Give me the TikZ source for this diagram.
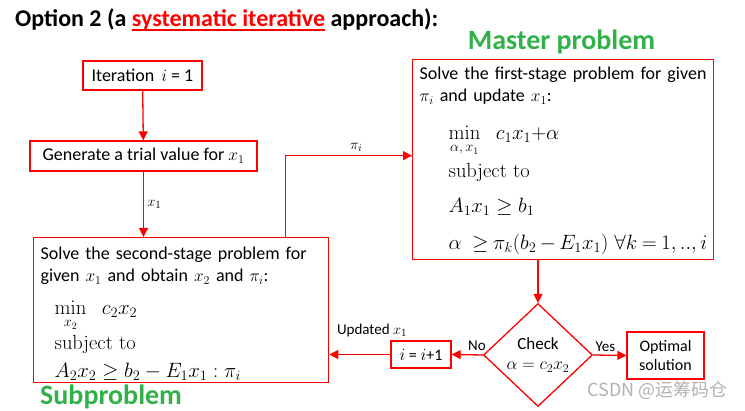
\documentclass[tikz,border=0pt]{standalone}
\usepackage[no-math]{fontspec}
\usepackage{amsmath,amssymb}
\setmainfont{Carlito}
\newfontfamily\cjkfont{Noto Sans CJK SC}
\usetikzlibrary{arrows.meta,shapes.geometric}
\definecolor{pptgreen}{RGB}{50,177,75}
\setlength{\parindent}{0pt}
\newcommand{\lmtext}[1]{{\fontfamily{lmr}\selectfont #1}}
\newcommand{\redline}[1]{\setbox0=\hbox{#1}\rlap{\rule[-3.6pt]{\wd0}{1.6pt}}\box0}
\newcommand{\mathline}[3][20.5]{{\fontsize{#1}{24}\selectfont\hspace*{#2}\mbox{#3}\par}}
\begin{document}
\begin{tikzpicture}[x=1pt,y=-1pt,
  box/.style={draw=red,line width=1.3pt,inner sep=0pt,font=\fontsize{18}{22}\selectfont},
  bigbox/.style={draw=red,line width=1.3pt,anchor=north west,inner xsep=7pt,inner ysep=0pt,font=\fontsize{18}{22}\selectfont},
  link/.style={red,line width=1.3pt,-{Triangle[length=9pt,width=9pt]}},
  lbl/.style={text=black,font=\fontsize{15}{18}\selectfont},
  heading/.style={font=\fontsize{28}{34}\selectfont\bfseries,text=pptgreen}]
  \useasboundingbox (0,0) rectangle (745,411);
  \node[anchor=base west,inner sep=0pt,font=\fontsize{24}{29}\selectfont\bfseries] (title) at (15,27)
    {Option 2 (a \textcolor{red}{\redline{systematic iterative}} approach):};
  \node[heading,anchor=base] (mtitle) at (561.5,50) {Master problem};
  \node[heading,anchor=base west,inner sep=0pt] (stitle) at (40,405) {Subproblem};
  \node[box,minimum width=119pt,minimum height=29pt] (iter) at (142.5,75.5) {Iteration \,$i$ = 1};
  \node[box,minimum width=227pt,minimum height=30pt] (trial) at (143.5,156) {Generate a trial value for $x_1$};
  \node[bigbox,text width=281pt,minimum height=145pt] (sub) at (33,237)
    {\lineskiplimit=-100pt
     \rule{0pt}{20pt}Solve the second-stage problem for given $x_1$ and obtain $x_2$ and $\pi_i$:\par
     \vspace{9pt}\mathline{14pt}{$\min\limits_{x_2}\ \ c_2x_2$}
     \vspace{11pt}\mathline{14pt}{\lmtext{subject to}}
     \vspace{4pt}\mathline{14pt}{$A_2x_2 \geq b_2 - E_1x_1 : \pi_i$}};
  \node[bigbox,text width=287pt,minimum height=200pt] (master) at (412,59)
    {\lineskiplimit=-100pt
     \rule{0pt}{15pt}Solve the first-stage problem for given\\$\pi_i$ and update $x_1$:\par
     \vspace{14pt}\mathline{29pt}{$\min\limits_{\alpha,\,x_1}\ \ c_1x_1{+}\alpha$}
     \vspace{14pt}\mathline{29pt}{\lmtext{subject to}}
     \vspace{11pt}\mathline{29pt}{$A_1x_1 \geq b_1$}
     \vspace{13pt}\mathline[19.5]{29pt}{\thickmuskip=4mu\medmuskip=3mu$\alpha\ \geq\pi_k(b_2 - E_1x_1)\ \forall k = 1,..,i$}};
  \node[draw=red,line width=1.3pt,diamond,aspect=1.06,minimum width=109pt,minimum height=103pt,
    inner sep=0pt,align=center,font=\fontsize{17}{20}\selectfont] (check) at (538,355) {Check\\$\alpha = c_2x_2$};
  \node[box,minimum width=77pt,minimum height=47pt,align=center,font=\fontsize{16}{19}\selectfont] (opt)
    at (665.5,355.5) {Optimal\\solution};
  \node[box,minimum width=60pt,minimum height=27pt,font=\fontsize{16}{19}\selectfont] (incr) at (421,354.5) {$i$ = $i$+1};
  \node[anchor=base east,inner sep=0pt,text=black!30,font=\cjkfont\fontsize{18}{21}\selectfont] (mark) at (728,397)
    {CSDN @运筹码仓};
  \draw[link] (iter) -- (trial);
  \draw[link] (trial) -- (trial.south |- sub.north) node[midway,right,lbl] {$x_1$};
  \draw[link] ([xshift=-44pt]sub.north east) |- ([yshift=4pt]master.west) node[pos=0.78,above,lbl] {$\pi_i$};
  \draw[link] (check.north |- master.south) -- (check.north);
  \draw[link] (check.east) -- (opt.west) node[pos=0.37,above,lbl] {Yes};
  \draw[link] (check.west) -- (incr.east) node[pos=0.19,above,lbl] {No};
  \draw[link] (incr.west) -- (incr.west -| sub.east) node[pos=0.3,above=14pt,lbl] {Updated $x_1$};
\end{tikzpicture}
\end{document}
